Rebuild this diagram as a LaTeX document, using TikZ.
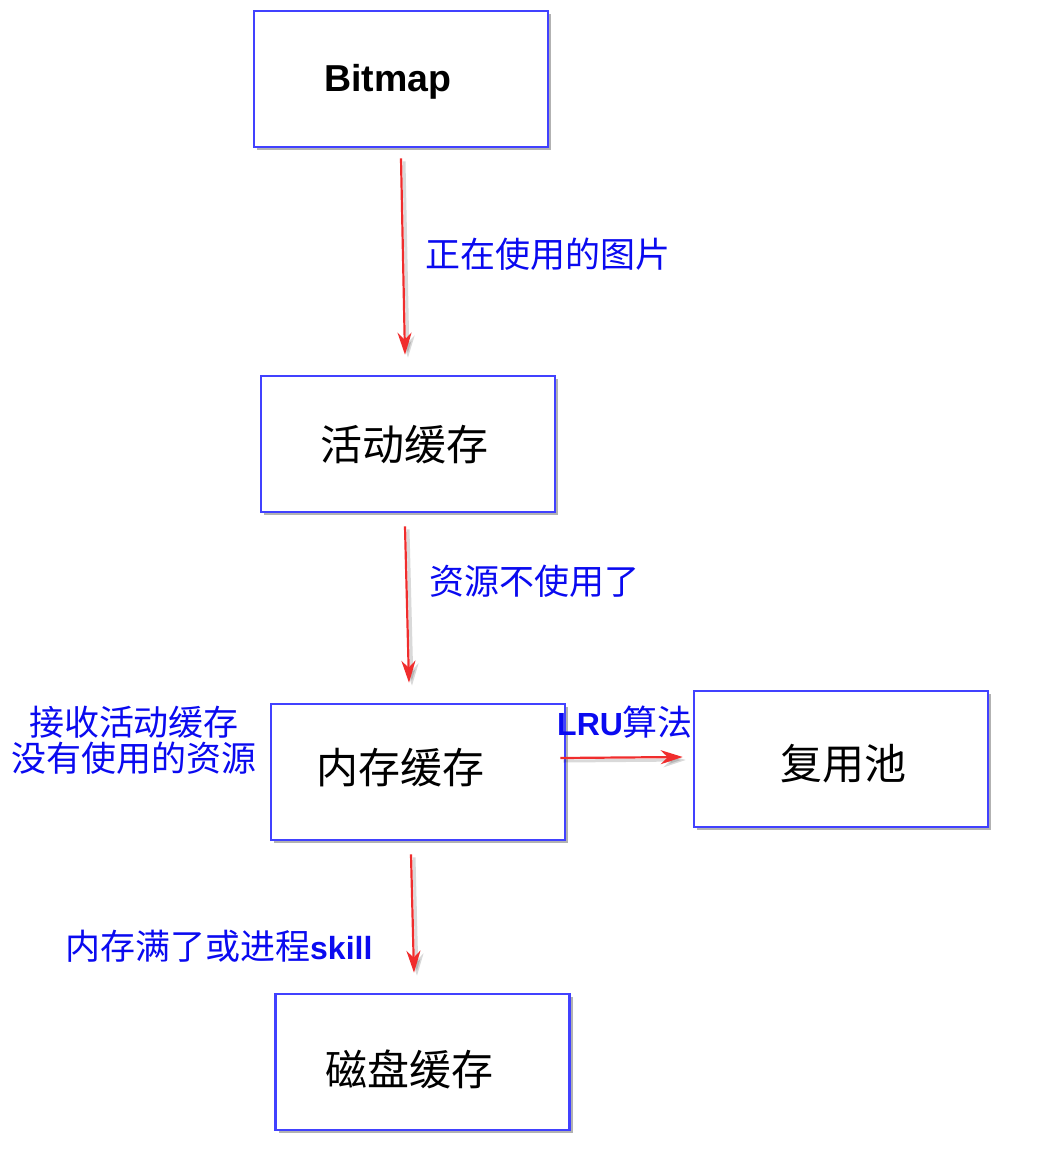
\documentclass[tikz,border=0pt]{standalone}
\usepackage{fontspec}
\setmainfont{Liberation Sans}
\newfontfamily\cjk{Noto Sans CJK SC}
\newfontfamily\latinb{Liberation Sans}
\usetikzlibrary{arrows.meta,shadows,calc}
\definecolor{boxblue}{RGB}{65,65,255}
\definecolor{txtblue}{RGB}{10,10,240}
\definecolor{arrred}{RGB}{240,45,45}
\tikzset{
  box/.style={draw=boxblue,line width=2.6pt,fill=white,minimum width=294pt,minimum height=136pt,inner sep=0pt,
    drop shadow={shadow xshift=3pt,shadow yshift=-3pt,opacity=0.3,fill=black}},
  boxtext/.style={inner sep=0pt,font=\fontsize{42}{50}\selectfont\cjk},
  lbl/.style={inner sep=0pt,text=txtblue,font=\fontsize{35}{36}\selectfont\cjk},
  arr/.style={draw=arrred,line width=2.2pt,-{Stealth[length=22pt,width=14pt,inset=7pt]}},
  arrshadow/.style={draw=black,opacity=0.15,line width=3pt,-{Stealth[length=22pt,width=14pt,inset=7pt]}}
}
\begin{document}
\begin{tikzpicture}[x=1pt,y=-1pt]
\useasboundingbox (0,0) rectangle (1056,1157);
\fill[white] (0,0) rectangle (1056,1157);
% boxes
\node[box] (bitmap) at (401,79) {};
\node[box] (active) at (408,444) {};
\node[box] (mem) at (418,772) {};
\node[box] (pool) at (841,759) {};
\node[box] (disk) at (422.5,1062) {};
% box texts
\node[inner sep=0pt,font=\fontsize{37.5}{40}\selectfont\bfseries] (tbitmap) at (388,82) {Bitmap};
\node[boxtext] (tactive) at (404,445) {活动缓存};
\node[boxtext] (tmem) at (400,768) {内存缓存};
\node[boxtext] (tpool) at (843,764) {复用池};
\node[boxtext] (tdisk) at (409,1069) {磁盘缓存};
% connector end points
\coordinate (a1) at ($(bitmap.south)+(0,10)$);
\coordinate (b1) at ($(active.north)+(-3,-20)$);
\coordinate (a2) at ($(active.south)+(-3,13)$);
\coordinate (b2) at ($(mem.north)+(-9,-20)$);
\coordinate (a3) at ($(mem.south)+(-7,13)$);
\coordinate (b3) at ($(disk.north)+(-8.5,-20)$);
\coordinate (a4) at ($(mem.east)+(-6,-14)$);
\coordinate (b4) at ($(pool.west)+(-10,-2)$);
% shadows of connectors
\foreach \s/\e in {a1/b1,a2/b2,a3/b3,a4/b4}{
  \draw[arrshadow] ($(\s)+(3,3)$) -- ($(\e)+(3,3)$);
}
\draw[arr] (a1) -- (b1);
\draw[arr] (a2) -- (b2);
\draw[arr] (a3) -- (b3);
\draw[arr] (a4) -- (b4);
% labels
\node[lbl,anchor=west] (l1) at (425,254) {正在使用的图片};
\node[lbl,anchor=west] (l2) at (429,581) {资源不使用了};
\node[lbl,align=center] (l3) at (134,740) {接收活动缓存\\没有使用的资源};
\node[lbl,anchor=west] (l4) at (557,722) {{\latinb\fontsize{32}{36}\selectfont\bfseries LRU}算法};
\node[lbl,anchor=west] (l5) at (65,946) {内存满了或进程{\latinb\fontsize{32}{36}\selectfont\bfseries skill}};
\end{tikzpicture}
\end{document}
